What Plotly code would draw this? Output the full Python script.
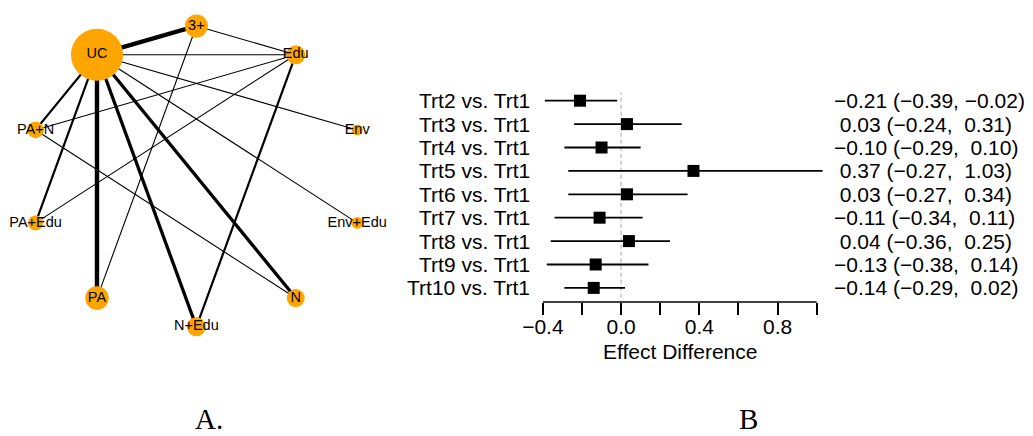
import numpy as np
import plotly.graph_objects as go

# ---------------- data: network (panel A) ----------------
nodes = ["3+", "Edu", "Env", "Env+Edu", "N", "N+Edu", "PA", "PA+Edu", "PA+N", "UC"]
node_weight = [23, 19, 11, 12, 18, 19, 23.5, 15, 16.5, 52]
edge_from = ["UC", "UC", "UC", "UC", "UC", "UC", "UC", "UC", "UC",
             "3+", "3+", "Edu", "Edu", "Edu", "PA+N"]
edge_to = ["3+", "Edu", "Env", "Env+Edu", "N", "N+Edu", "PA", "PA+Edu", "PA+N",
           "Edu", "PA", "PA+N", "PA+Edu", "N+Edu", "N"]
edge_studies = [4, 1, 1, 1, 3, 3, 4, 2, 2, 1, 1, 1, 1, 2, 1]

# ---------------- data: forest plot (panel B) ----------------
comparisons = ["Trt2 vs. Trt1", "Trt3 vs. Trt1", "Trt4 vs. Trt1", "Trt5 vs. Trt1",
               "Trt6 vs. Trt1", "Trt7 vs. Trt1", "Trt8 vs. Trt1", "Trt9 vs. Trt1",
               "Trt10 vs. Trt1"]
estimate = [-0.21, 0.03, -0.10, 0.37, 0.03, -0.11, 0.04, -0.13, -0.14]
lower = [-0.39, -0.24, -0.29, -0.27, -0.27, -0.34, -0.36, -0.38, -0.29]
upper = [-0.02, 0.31, 0.10, 1.03, 0.34, 0.11, 0.25, 0.14, 0.02]
tick_vals = [-0.4, -0.2, 0.0, 0.2, 0.4, 0.6, 0.8, 1.0]
tick_text = ["\u22120.4", "", "0.0", "", "0.4", "", "0.8", ""]
x_title = "Effect Difference"
panel_labels = ["A.", "B"]

# ---------------- geometry / styles ----------------
W, H = 1033, 436
SANS = "Liberation Sans, Arial, Helvetica, sans-serif"
SERIF = "Liberation Serif, Times New Roman, serif"
ORANGE = "#FFA500"
FS = 21
# horizontal correction measured for the screenshot (picture_x = 0.99 * page_x + 10.5)
SHOT_A, SHOT_B = 0.99, 10.5


def px_x(p):
    return ((p - SHOT_B) / SHOT_A) / W


def px_y(p):
    return 1 - p / H


fig = go.Figure()

# circular layout (first node at top, clockwise)
n = len(nodes)
ang = np.pi / 2 - 2 * np.pi * np.arange(n) / n
nx, ny = np.cos(ang), np.sin(ang)
pos = {nm: (x, y) for nm, x, y in zip(nodes, nx, ny)}

for a, b, k in zip(edge_from, edge_to, edge_studies):
    fig.add_trace(go.Scatter(
        x=[pos[a][0], pos[b][0]], y=[pos[a][1], pos[b][1]],
        mode="lines", line=dict(color="black", width=1.1 * k),
        hoverinfo="skip", showlegend=False, xaxis="x", yaxis="y"))

fig.add_trace(go.Scatter(
    x=nx, y=ny, mode="markers+text", text=nodes, textposition="middle center",
    marker=dict(size=node_weight, color=ORANGE, opacity=1, line=dict(width=0)),
    textfont=dict(family=SANS, size=14.5, color="black"), opacity=1,
    cliponaxis=False, showlegend=False, hoverinfo="text", xaxis="x", yaxis="y"))

# forest plot
rows = list(range(len(comparisons)))
cx, cy = [], []
for r, lo, hi in zip(rows, lower, upper):
    cx += [lo, hi, None]
    cy += [r, r, None]
fig.add_trace(go.Scatter(
    x=cx, y=cy, mode="lines", line=dict(color="black", width=1.8),
    showlegend=False, hoverinfo="skip", xaxis="x2", yaxis="y2"))
fig.add_trace(go.Scatter(
    x=estimate, y=rows, mode="markers",
    marker=dict(symbol="square", size=12, color="black", opacity=1, line=dict(width=0)),
    cliponaxis=False, showlegend=False, xaxis="x2", yaxis="y2"))

x0px, scale = 621.0, 195.7
xr = [-0.45, 1.07]
row0, step = 100.7, 23.4
ytop, ybot = 88.0, 302.0
yr = [(ybot - row0) / step, (ytop - row0) / step]


def fmt(v):
    s = f"{abs(v):.2f}"
    return ("\u2212" if v < 0 else "\u00a0") + s


annotations = []
for r, lab, e, lo, hi in zip(rows, comparisons, estimate, lower, upper):
    annotations.append(dict(x=px_x(532), xref="paper", y=r, yref="y2",
                            text=lab, xanchor="right", yanchor="middle",
                            showarrow=False, font=dict(family=SANS, size=FS, color="black")))
    annotations.append(dict(x=px_x(832), xref="paper", y=r, yref="y2",
                            text=f"{fmt(e)} ({fmt(lo)}, {fmt(hi)})",
                            xanchor="left", yanchor="middle",
                            showarrow=False, font=dict(family=SANS, size=FS, color="black")))
annotations.append(dict(x=(tick_vals[0] + tick_vals[-1]) / 2, xref="x2",
                        y=px_y(351), yref="paper", text=x_title,
                        xanchor="center", yanchor="middle", showarrow=False,
                        font=dict(family=SANS, size=FS, color="black")))
for lab, cxp in zip(panel_labels, [209, 748]):
    annotations.append(dict(x=px_x(cxp), xref="paper", y=px_y(419), yref="paper",
                            text=lab, xanchor="center", yanchor="middle",
                            showarrow=False, font=dict(family=SERIF, size=29, color="black")))

shapes = [
    dict(type="line", xref="x2", x0=tick_vals[0], x1=tick_vals[-1],
         yref="y2 domain", y0=0, y1=0, line=dict(color="black", width=1.5)),
    dict(type="line", xref="x2", x0=0, x1=0, yref="y2 domain", y0=0.02, y1=0.98,
         line=dict(color="#c4c4c4", width=1.5, dash="4px,3px"), layer="below"),
]

cx_px, cy_px, rx_px, ry_px = 196.0, 176.4, 169.2, 150.4

fig.update_layout(
    width=W, height=H, margin=dict(l=0, r=0, t=0, b=0),
    paper_bgcolor="white", plot_bgcolor="white", showlegend=False,
    xaxis=dict(domain=[px_x(cx_px - rx_px), px_x(cx_px + rx_px)], range=[-1, 1],
               visible=False, anchor="y", fixedrange=True),
    yaxis=dict(domain=[px_y(cy_px + ry_px), px_y(cy_px - ry_px)], range=[-1, 1],
               visible=False, anchor="x", fixedrange=True),
    xaxis2=dict(domain=[px_x(x0px + scale * xr[0]), px_x(x0px + scale * xr[1])],
                range=xr, anchor="y2", showline=False, showgrid=False, zeroline=False,
                ticks="outside", ticklen=12, tickwidth=1.5, tickcolor="black",
                ticklabelstandoff=-6,
                tickmode="array", tickvals=tick_vals, ticktext=tick_text,
                tickfont=dict(family=SANS, size=FS, color="black"), fixedrange=True),
    yaxis2=dict(domain=[px_y(ybot), px_y(ytop)], range=yr, anchor="x2",
                visible=False, fixedrange=True),
    annotations=annotations, shapes=shapes,
)

fig.write_html(
    "out.html",
    config={"displayModeBar": False},
    post_script="document.body.style.margin='0';document.body.style.overflow='hidden';",
)
